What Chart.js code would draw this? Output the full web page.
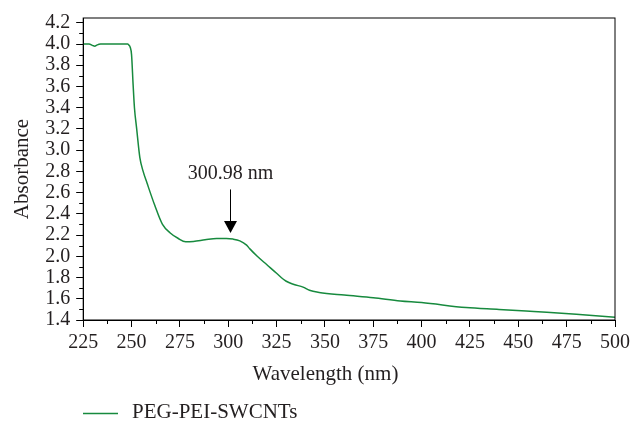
<!DOCTYPE html>
<html>
<head>
<meta charset="utf-8">
<script src="https://cdn.jsdelivr.net/npm/chart.js@4/dist/chart.umd.min.js"></script>
<style>
  html, body { margin: 0; padding: 0; background: #fff; }
  #wrap { width: 631px; height: 421px; }
</style>
</head>
<body>
<div id="wrap"><canvas id="uv"></canvas></div>
<script>
// spectrum
const wavelengths = [225, 228, 230, 231, 232, 234, 240, 246, 248, 248.6, 249.3, 250, 250.8, 251.5, 252.6, 254.3, 256, 258, 262, 266, 270, 274, 278, 282, 288, 294, 299, 302.5, 306, 309.5, 311.2, 315, 320, 325, 330, 334, 338.7, 342, 347, 360, 375, 389, 400, 423, 440, 458, 480, 500];
const absorbance = [4.0, 4.0, 3.985, 3.98, 3.99, 4.0, 4.0, 4.0, 4.0, 3.99, 3.97, 3.9, 3.62, 3.4, 3.21, 2.93, 2.8, 2.69, 2.48, 2.3, 2.22, 2.17, 2.137, 2.14, 2.155, 2.168, 2.168, 2.162, 2.145, 2.105, 2.07, 2.0, 1.92, 1.84, 1.765, 1.735, 1.71, 1.68, 1.66, 1.635, 1.61, 1.58, 1.565, 1.517, 1.5, 1.48, 1.455, 1.426];
const xTicks = [225, 250, 275, 300, 325, 350, 375, 400, 425, 450, 475, 500];
const yTicks = [1.4, 1.6, 1.8, 2.0, 2.2, 2.4, 2.6, 2.8, 3.0, 3.2, 3.4, 3.6, 3.8, 4.0, 4.2];
const peakWavelength = 300.98;
const peakLabel = '300.98 nm';
const seriesName = 'PEG-PEI-SWCNTs';

const green = '#178a3e';
const ink = '#231f20';
const serif = '"Liberation Serif", "DejaVu Serif", serif';

// frame, minor ticks, arrow annotation, x title, legend
const extras = {
    id: 'extras',
    afterDraw(chart) {
        const c = chart.ctx;
        const a = chart.chartArea;
        const xs = chart.scales.x;
        const ys = chart.scales.y;
        c.save();
        c.strokeStyle = '#000';
        c.lineWidth = 1;
        c.strokeRect(a.left, a.top, a.right - a.left, a.bottom - a.top);

        c.beginPath();
        for (let i = 0; i < xTicks.length - 1; i++) {
            const px = Math.round(xs.getPixelForValue(xTicks[i] + 12.5)) + 0.5;
            c.moveTo(px, a.bottom);
            c.lineTo(px, a.bottom + 4);
        }
        for (let i = 0; i < yTicks.length - 1; i++) {
            const py = Math.round(ys.getPixelForValue(yTicks[i] + 0.1)) + 0.5;
            c.moveTo(a.left, py);
            c.lineTo(a.left - 4, py);
        }
        c.stroke();

        // arrow
        const ax = Math.round(xs.getPixelForValue(peakWavelength)) + 0.5;
        const tip = ys.getPixelForValue(2.22);
        const top = ys.getPixelForValue(2.63);
        c.beginPath();
        c.moveTo(ax, top);
        c.lineTo(ax, tip - 10);
        c.stroke();
        c.fillStyle = '#000';
        c.beginPath();
        c.moveTo(ax - 6.5, tip - 12);
        c.lineTo(ax + 6.5, tip - 12);
        c.lineTo(ax, tip);
        c.closePath();
        c.fill();
        c.fillStyle = ink;
        c.font = '20px ' + serif;
        c.textAlign = 'center';
        c.textBaseline = 'middle';
        c.fillText(peakLabel, ax, ys.getPixelForValue(2.775));

        // x axis title
        c.font = '21px ' + serif;
        c.fillText('Wavelength (nm)', 325.5, 374);

        // legend
        const ly = 413.5;
        c.strokeStyle = green;
        c.lineWidth = 1.5;
        c.beginPath();
        c.moveTo(83, ly);
        c.lineTo(118, ly);
        c.stroke();
        c.fillStyle = ink;
        c.textAlign = 'left';
        c.font = '21px ' + serif;
        c.fillText(chart.data.datasets[0].label, 132, ly - 1);
        c.restore();
    }
};

new Chart(document.getElementById('uv'), {
    type: 'line',
    data: {
        datasets: [{
            label: seriesName,
            data: wavelengths.map((w, i) => ({ x: w, y: absorbance[i] })),
            borderColor: green,
            borderWidth: 1.5,
            pointRadius: 0,
            cubicInterpolationMode: 'monotone',
            fill: false
        }]
    },
    options: {
        responsive: true,
        maintainAspectRatio: false,
        animation: false,
        layout: { padding: { left: 10, right: 16, top: 16, bottom: 62 } },
        plugins: {
            legend: { display: false },
            tooltip: { enabled: false }
        },
        scales: {
            x: {
                type: 'linear',
                min: 225,
                max: 500,
                border: { color: '#000', width: 1 },
                grid: { drawOnChartArea: false, tickLength: 7, color: '#000' },
                afterBuildTicks: s => { s.ticks = xTicks.map(v => ({ value: v })); },
                afterFit: s => { s.paddingRight = 0; },
                ticks: {
                    color: ink,
                    font: { family: serif, size: 20 },
                    maxRotation: 0,
                    autoSkip: false,
                    padding: 4
                }
            },
            y: {
                min: 1.4,
                max: 4.245,
                border: { color: '#000', width: 1 },
                grid: { drawOnChartArea: false, tickLength: 7, color: '#000' },
                afterBuildTicks: s => { s.ticks = yTicks.map(v => ({ value: v })); },
                ticks: {
                    color: ink,
                    font: { family: serif, size: 20 },
                    padding: 6,
                    autoSkip: false,
                    callback: v => v.toFixed(1)
                },
                title: {
                    display: true,
                    text: 'Absorbance',
                    color: ink,
                    font: { family: serif, size: 21 },
                    padding: { top: 0, bottom: 4 }
                }
            }
        }
    },
    plugins: [extras]
});
</script>
</body>
</html>
